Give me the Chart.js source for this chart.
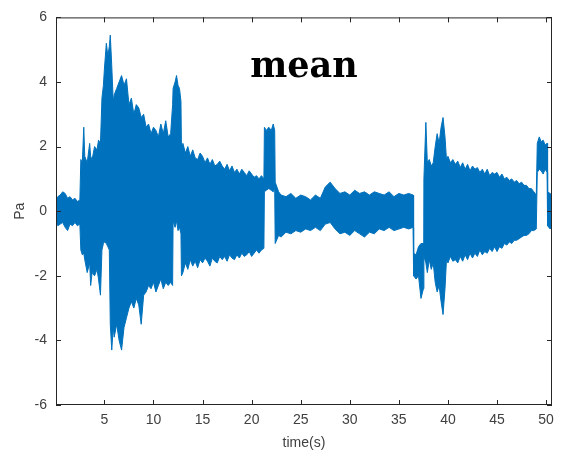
<!DOCTYPE html>
<html>
<head>
<meta charset="utf-8">
<script src="https://cdn.jsdelivr.net/npm/chart.js@4.4.1/dist/chart.umd.min.js"></script>
<style>
  html, body { margin: 0; padding: 0; background: #fff; }
</style>
</head>
<body>
<canvas id="myChart" width="565" height="454"></canvas>
<script>
// envelope of the pressure signal (time in s, Pa)
const timeS = [
  0, 0.25, 0.5, 0.75, 1.0, 1.25, 1.5, 1.75, 2.0, 2.25, 2.5,
  2.6, 2.75, 2.9, 3.0, 3.25, 3.5, 3.6, 3.75, 4.0, 4.25, 4.4, 4.6,
  4.75, 4.9, 5.0, 5.2, 5.35, 5.5, 5.6, 5.75, 5.9,
  6.0, 6.25, 6.5, 6.75, 7.0, 7.25, 7.5, 7.75, 8.0, 8.25, 8.5, 8.75, 9.0,
  9.25, 9.5, 9.75, 10.0, 10.25, 10.5, 10.75, 11.0, 11.25, 11.5, 11.75, 11.95,
  12.0, 12.2, 12.35, 12.5, 12.65, 12.8, 12.85,
  13.0, 13.25, 13.5, 13.75, 14.0, 14.25, 14.5, 14.75, 15.0, 15.25, 15.5, 15.75, 16.0, 16.25, 16.5, 16.75,
  17.0, 17.25, 17.5, 17.75, 18.0, 18.25, 18.5, 18.75, 19.0, 19.25, 19.5, 19.75, 20.0, 20.25, 20.5, 20.75, 21.0, 21.25,
  21.3, 21.5, 21.75, 22.0, 22.2, 22.35,
  22.4, 22.75, 23.0, 23.5, 24.0, 24.5, 25.0, 25.5, 26.0, 26.5, 27.0, 27.5, 28.0, 28.5, 29.0, 29.5, 30.0, 30.5, 31.0, 31.5, 32.0, 32.5, 33.0, 33.5, 34.0, 34.5, 35.0, 35.5, 36.0, 36.45,
  36.5, 36.75, 37.0, 37.25, 37.5,
  37.55, 37.75, 37.9, 38.1, 38.3, 38.5, 38.7, 38.9, 39.1, 39.3, 39.5, 39.7, 39.85, 40.0, 40.25, 40.5, 40.75,
  41.0, 41.25, 41.5, 41.75, 42.0, 42.25, 42.5, 42.75, 43.0, 43.25, 43.5, 43.75, 44.0, 44.25, 44.5, 44.75,
  45.0, 45.25, 45.5, 45.75, 46.0, 46.25, 46.5, 46.75, 47.0, 47.25, 47.5, 47.75, 48.0, 48.25, 48.5, 48.75, 49.0,
  49.1, 49.3, 49.5, 49.7, 49.9, 50.1, 50.15, 50.4, 50.6
];
const upperPa = [
  0.3, 0.45, 0.5, 0.6, 0.55, 0.4, 0.45, 0.35, 0.4, 0.3, 0.35,
  1.6, 1.5, 2.6, 1.7, 1.5, 2.1, 1.7, 1.6, 2.0, 1.9, 2.2, 2.1,
  3.5, 3.9, 4.4, 5.2, 4.8, 5.1, 5.45, 4.5, 3.4,
  3.6, 3.8, 4.0, 4.2, 3.9, 4.1, 3.3, 3.5, 3.0, 3.3, 3.2, 2.9, 3.0,
  2.6, 2.7, 2.4, 2.6, 2.5, 2.3, 2.7, 2.4, 2.8, 2.3, 2.4, 3.3,
  3.8, 4.0, 4.2, 3.9, 3.8, 3.4, 2.0,
  2.1, 1.8, 2.0, 1.7, 1.9, 1.65, 1.6, 1.8, 1.7, 1.5, 1.65, 1.45, 1.6, 1.4, 1.45, 1.55,
  1.4, 1.3, 1.45, 1.25, 1.4, 1.2, 1.3, 1.15, 1.3, 1.2, 1.1, 1.25, 1.15, 1.05, 1.1, 1.0, 1.1, 1.0,
  2.6, 2.5, 2.6, 2.5, 2.7, 2.5,
  0.9, 0.6, 0.5, 0.45, 0.55, 0.4, 0.5, 0.45, 0.35, 0.5, 0.4, 0.75, 0.9, 0.7, 0.55, 0.6, 0.5, 0.65, 0.55, 0.6, 0.5, 0.6, 0.55, 0.5, 0.6, 0.45, 0.55, 0.5, 0.55, 0.5,
  -1.3, -1.35, -1.1, -1.0, -1.0,
  1.0, 2.75, 1.5, 1.6, 1.4, 1.5, 2.0, 2.4, 2.1, 2.6, 2.9, 2.3, 1.6, 1.7, 1.5, 1.6, 1.45,
  1.55, 1.35, 1.5, 1.3, 1.45, 1.25, 1.4, 1.3, 1.35, 1.2, 1.3, 1.15, 1.3, 1.1, 1.2, 1.15,
  1.2, 1.05, 1.15, 1.0, 1.05, 0.95, 1.0, 0.9, 0.95, 0.85, 0.9, 0.8, 0.8, 0.7, 0.7, 0.6, 0.5,
  2.1, 2.3, 2.15, 2.2, 2.05, 2.1, 0.6, 0.55, 0.5
];
const lowerPa = [
  -0.3, -0.45, -0.4, -0.35, -0.5, -0.6, -0.4, -0.45, -0.35, -0.45, -0.4,
  -1.2, -1.35, -1.3, -1.5, -1.9, -1.6, -2.3, -1.9, -2.0, -1.8, -2.1, -2.6,
  -1.2, -1.0, -0.95, -1.0, -1.1, -1.2, -3.5, -4.3, -3.6,
  -3.9, -3.5, -4.0, -4.3, -3.6, -3.3, -3.0, -2.8, -3.0, -2.7, -2.9, -3.5, -2.6,
  -2.5, -2.3, -2.4, -2.2, -2.5, -2.3, -2.1, -2.4, -2.2, -2.3, -2.2, -2.3,
  -0.3, -0.5, -0.3, -0.6, -0.5, -0.7, -2.0,
  -1.9, -1.6, -1.8, -1.5, -1.7, -1.55, -1.75, -1.5, -1.6, -1.45, -1.55, -1.7, -1.45, -1.55, -1.6, -1.4,
  -1.5, -1.4, -1.55, -1.35, -1.45, -1.5, -1.35, -1.45, -1.3, -1.4, -1.35, -1.25, -1.4, -1.3, -1.2, -1.3, -1.2, -1.15,
  0.6, 0.65, 0.7, 0.65, 0.6, 0.7,
  -1.0, -0.75, -0.8, -0.65, -0.7, -0.6, -0.65, -0.55, -0.6, -0.5, -0.6, -0.4, -0.35, -0.55, -0.7, -0.65, -0.75, -0.6, -0.7, -0.8, -0.65, -0.7, -0.55, -0.6, -0.5, -0.6, -0.55, -0.5, -0.55, -0.5,
  -2.0, -2.1, -2.0, -2.7, -2.4,
  -1.4, -1.6, -1.9, -1.5, -1.8, -1.6, -2.2, -2.5, -2.3, -2.8, -3.2, -2.4, -1.5, -1.6, -1.4, -1.55, -1.5,
  -1.6, -1.4, -1.55, -1.35, -1.5, -1.3, -1.45, -1.3, -1.4, -1.2, -1.35, -1.25, -1.3, -1.15, -1.25, -1.1,
  -1.25, -1.1, -1.15, -1.0, -1.05, -0.95, -1.0, -0.9, -0.9, -0.85, -0.8, -0.75, -0.75, -0.7, -0.6, -0.6, -0.55,
  1.2, 1.3, 1.25, 1.15, 1.3, 1.2, -0.45, -0.55, -0.5
];
const xTicks = [5, 10, 15, 20, 25, 30, 35, 40, 45, 50];
const yTicks = [-6, -4, -2, 0, 2, 4, 6];
const titleText = 'mean';

const blue = '#0072BD';
const axisFont = { family: '"Liberation Sans", Arial, sans-serif', size: 14 };
const textColor = '#404040';

// MATLAB style box with inward ticks, plus the title inside the axes
const matlabBox = {
  id: 'matlabBox',
  afterDatasetsDraw(chart) {
    const ctx = chart.ctx;
    const a = chart.chartArea;
    const x = chart.scales.x, y = chart.scales.y;
    ctx.save();
    ctx.strokeStyle = '#262626';
    ctx.lineWidth = 1;
    ctx.strokeRect(a.left + 0.5, a.top + 0.5, a.right - a.left - 1, a.bottom - a.top - 1);
    ctx.beginPath();
    xTicks.forEach(v => {
      const px = Math.round(x.getPixelForValue(v)) + 0.5;
      ctx.moveTo(px, a.bottom); ctx.lineTo(px, a.bottom - 5);
      ctx.moveTo(px, a.top); ctx.lineTo(px, a.top + 5);
    });
    yTicks.forEach(v => {
      const py = Math.round(y.getPixelForValue(v)) + 0.5;
      ctx.moveTo(a.left, py); ctx.lineTo(a.left + 5, py);
      ctx.moveTo(a.right, py); ctx.lineTo(a.right - 5, py);
    });
    ctx.stroke();

    ctx.font = 'bold 35px "DejaVu Serif", serif';
    ctx.fillStyle = '#000';
    ctx.textAlign = 'center';
    ctx.textBaseline = 'alphabetic';
    ctx.fillText(titleText, (a.left + a.right) / 2, y.getPixelForValue(4.15));
    ctx.restore();
  }
};

window.onload = function() {
  let canva = document.getElementById('myChart').getContext('2d');

  let myChart = new Chart(canva, {
    type: 'line',
    data: {
      datasets: [
        {
          label: 'upper',
          data: timeS.map((t, i) => ({ x: t, y: upperPa[i] })),
          borderColor: blue,
          borderWidth: 1,
          pointRadius: 0,
          tension: 0,
          fill: false
        },
        {
          label: 'lower',
          data: timeS.map((t, i) => ({ x: t, y: lowerPa[i] })),
          borderColor: blue,
          backgroundColor: blue,
          borderWidth: 1,
          pointRadius: 0,
          tension: 0,
          fill: '-1'
        }
      ]
    },
    options: {
      responsive: false,
      animation: false,
      layout: { padding: { top: 13, right: 13, left: 0, bottom: 0 } },
      plugins: {
        legend: { display: false },
        title: { display: false },
        tooltip: { enabled: false }
      },
      scales: {
        x: {
          type: 'linear',
          min: 0.07,
          max: 50.6,
          afterBuildTicks: s => { s.ticks = xTicks.map(v => ({ value: v })); },
          afterFit: s => { s.height = 49; },
          grid: { display: false, drawTicks: false },
          border: { display: false },
          ticks: { font: axisFont, color: textColor, padding: 7, maxRotation: 0, autoSkip: false },
          title: { display: true, text: 'time(s)', font: axisFont, color: textColor, padding: { top: 5, bottom: 2 } }
        },
        y: {
          min: -6,
          max: 6,
          afterBuildTicks: s => { s.ticks = yTicks.map(v => ({ value: v })); },
          afterFit: s => { s.width = 56; },
          grid: { display: false, drawTicks: false },
          border: { display: false },
          ticks: { font: axisFont, color: textColor, padding: 9, autoSkip: false },
          title: { display: true, text: 'Pa', font: axisFont, color: textColor, padding: { top: 12, bottom: 0 } }
        }
      }
    },
    plugins: [matlabBox]
  });
};
</script>
</body>
</html>
